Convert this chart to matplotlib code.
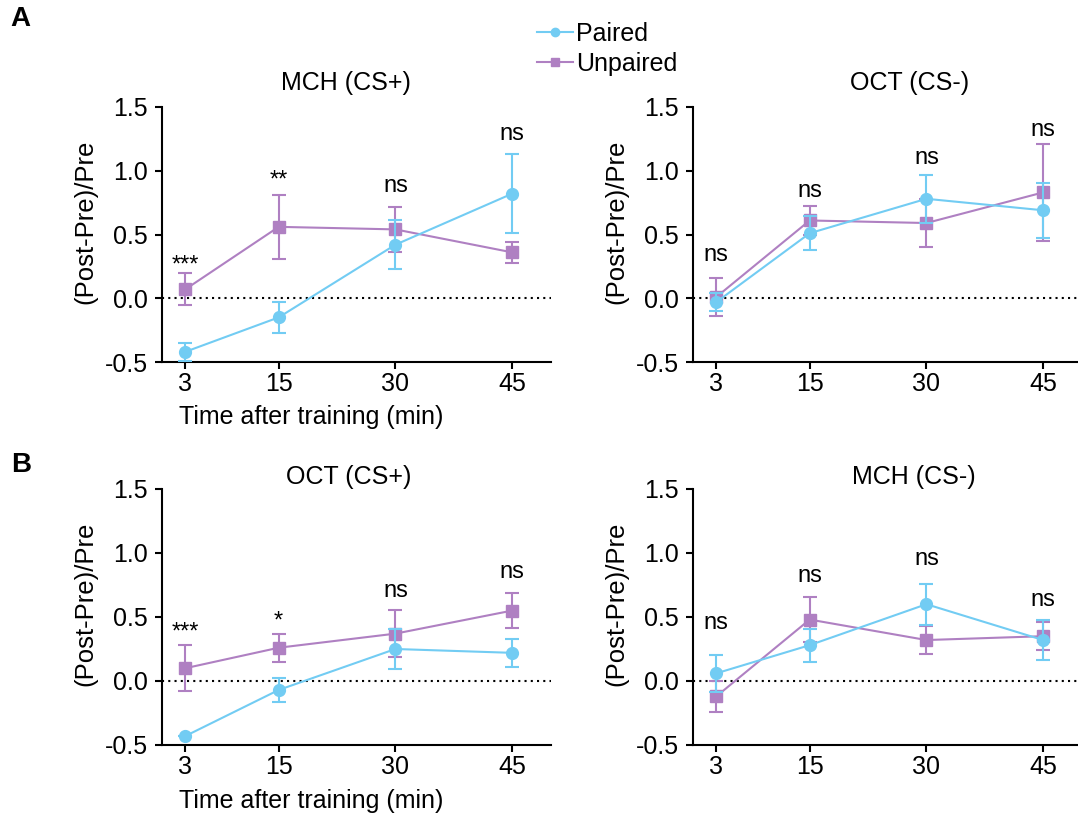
import numpy as np
import matplotlib
matplotlib.use('Agg')
import matplotlib.pyplot as plt
from matplotlib.lines import Line2D

plt.rcParams['font.family'] = ['Liberation Sans', 'DejaVu Sans']

# Data
times = [3, 15, 30, 45]

mch_csp_paired = [-0.42, -0.15, 0.42, 0.82]
mch_csp_paired_err = [0.07, 0.12, 0.19, 0.31]
mch_csp_unpaired = [0.07, 0.56, 0.54, 0.36]
mch_csp_unpaired_err = [0.125, 0.25, 0.175, 0.08]
mch_csp_sig = ['***', '**', 'ns', 'ns']
mch_csp_sig_y = [0.31, 0.98, 0.88, 1.29]

oct_csm_paired = [-0.03, 0.51, 0.78, 0.69]
oct_csm_paired_err = [0.07, 0.135, 0.19, 0.215]
oct_csm_unpaired = [0.01, 0.61, 0.59, 0.83]
oct_csm_unpaired_err = [0.15, 0.11, 0.19, 0.38]
oct_csm_sig = ['ns', 'ns', 'ns', 'ns']
oct_csm_sig_y = [0.34, 0.84, 1.10, 1.32]

oct_csp_paired = [-0.43, -0.07, 0.25, 0.22]
oct_csp_paired_err = [0.0, 0.093, 0.155, 0.11]
oct_csp_unpaired = [0.10, 0.26, 0.37, 0.55]
oct_csp_unpaired_err = [0.178, 0.108, 0.184, 0.135]
oct_csp_sig = ['***', '*', 'ns', 'ns']
oct_csp_sig_y = [0.43, 0.52, 0.70, 0.85]

mch_csm_paired = [0.06, 0.28, 0.60, 0.32]
mch_csm_paired_err = [0.145, 0.13, 0.16, 0.155]
mch_csm_unpaired = [-0.12, 0.48, 0.32, 0.35]
mch_csm_unpaired_err = [0.12, 0.175, 0.107, 0.11]
mch_csm_sig = ['ns', 'ns', 'ns', 'ns']
mch_csm_sig_y = [0.45, 0.82, 0.95, 0.63]

blue = '#72CCF3'
purple = '#AF80C2'

W, H = 1078, 824
fig = plt.figure(figsize=(W / 100, H / 100), dpi=100)


def make_axes(left_px, top_px, bottom_px):
    return fig.add_axes([left_px / W, 1 - bottom_px / H,
                         389 / W, (bottom_px - top_px) / H])


def draw_panel(ax, title, title_x, title_y, paired, paired_err, unpaired,
               unpaired_err, sig, sig_y, xlabel=True):
    ax.axhline(0, color='black', lw=1.5, ls=(0, (1, 2)), zorder=1)
    ax.errorbar(times, unpaired, yerr=unpaired_err, color=purple, lw=1.5,
                marker='s', ms=8, capsize=5, capthick=1.5, elinewidth=1.5,
                zorder=2, clip_on=False)
    ax.errorbar(times, paired, yerr=paired_err, color=blue, lw=1.5,
                marker='o', ms=8.5, capsize=5, capthick=1.5, elinewidth=1.5,
                zorder=3, clip_on=False)
    for x, s, y in zip(times, sig, sig_y):
        if s.startswith('*'):
            ax.text(x, y - 0.055, s, ha='center', va='center', fontsize=17)
        else:
            ax.text(x, y, s, ha='center', va='center', fontsize=17)
    ax.text(title_x, title_y, title, ha='center', va='center', fontsize=18)
    ax.set_xlim(0, 50)
    ax.set_ylim(-0.5, 1.5)
    ax.set_xticks(times)
    ax.set_yticks([-0.5, 0.0, 0.5, 1.0, 1.5])
    ax.set_yticklabels(['-0.5', '0.0', '0.5', '1.0', '1.5'])
    ax.spines['top'].set_visible(False)
    ax.spines['right'].set_visible(False)
    ax.spines['left'].set_linewidth(1.5)
    ax.spines['bottom'].set_linewidth(1.5)
    ax.tick_params(axis='both', length=5, width=1.5, labelsize=18)
    ax.tick_params(axis='x', pad=2)
    ax.tick_params(axis='y', pad=5)
    ax.set_ylabel('(Post-Pre)/Pre', fontsize=18.5)
    ax.yaxis.set_label_coords(-0.167, 0.55)
    if xlabel:
        ax.set_xlabel('Time after training (min)', fontsize=18)
        ax.xaxis.set_label_coords(0.383, -0.17)


ax1 = make_axes(162, 107, 362)
ax2 = make_axes(693, 107, 362)
ax3 = make_axes(162, 489, 745)
ax4 = make_axes(693, 489, 745)

draw_panel(ax1, 'MCH (CS+)', 23.7, 1.69, mch_csp_paired, mch_csp_paired_err,
           mch_csp_unpaired, mch_csp_unpaired_err, mch_csp_sig, mch_csp_sig_y)
draw_panel(ax2, 'OCT (CS-)', 27.9, 1.69, oct_csm_paired, oct_csm_paired_err,
           oct_csm_unpaired, oct_csm_unpaired_err, oct_csm_sig, oct_csm_sig_y,
           xlabel=False)
draw_panel(ax3, 'OCT (CS+)', 24.0, 1.59, oct_csp_paired, oct_csp_paired_err,
           oct_csp_unpaired, oct_csp_unpaired_err, oct_csp_sig, oct_csp_sig_y)
draw_panel(ax4, 'MCH (CS-)', 28.4, 1.59, mch_csm_paired, mch_csm_paired_err,
           mch_csm_unpaired, mch_csm_unpaired_err, mch_csm_sig, mch_csm_sig_y,
           xlabel=False)

# Legend
handles = [Line2D([], [], color=blue, lw=1.5, marker='o', ms=6),
           Line2D([], [], color=purple, lw=1.5, marker='s', ms=6)]
fig.legend(handles, ['Paired', 'Unpaired'], loc='center left',
           bbox_to_anchor=(537 / W, 1 - 49 / H), frameon=False, fontsize=18,
           handlelength=1.45, handletextpad=0.1, labelspacing=0.25,
           borderpad=0, borderaxespad=0)

# Panel letters
fig.text(10 / W, 1 - 19 / H, 'A', fontsize=20, fontweight='bold', va='center')
fig.text(11 / W, 1 - 465 / H, 'B', fontsize=20, fontweight='bold', va='center')

fig.savefig('out.png', dpi=100)
